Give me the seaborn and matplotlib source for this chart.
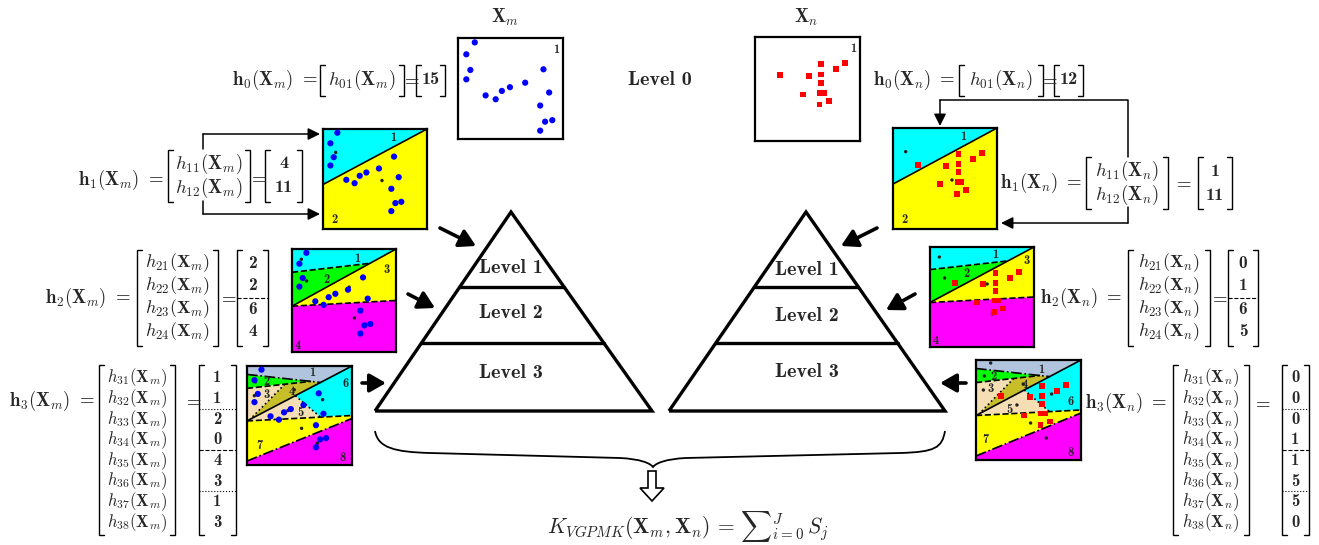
import matplotlib
matplotlib.use("Agg")
import matplotlib.pyplot as plt
import numpy as np
import pandas as pd
import seaborn as sns
from matplotlib.patches import Polygon, FancyArrow, PathPatch
from matplotlib.path import Path

# ------------------------------------------------------------------ data
# point sets (normalised feature space)
xm_x = [0.138, 0.071, 0.103, 0.071, 0.224, 0.304, 0.353, 0.417, 0.538, 0.683, 0.728, 0.657, 0.696, 0.753, 0.657]
xm_y = [0.963, 0.857, 0.718, 0.635, 0.492, 0.458, 0.532, 0.565, 0.605, 0.724, 0.518, 0.402, 0.259, 0.272, 0.179]
xn_x = [0.240, 0.513, 0.631, 0.631, 0.631, 0.769, 0.859, 0.455, 0.619, 0.657, 0.702, 0.615]
xn_y = [0.637, 0.627, 0.739, 0.640, 0.561, 0.693, 0.752, 0.446, 0.465, 0.465, 0.386, 0.350]
# view range of the level-0 box of X_m
xm_l0_xlim = (0.005, 0.838)
xm_l0_ylim = (0.105, 1.002)

# codebook (region centre) points per level
cb1_x = [0.122, 0.567]
cb1_y = [0.766, 0.485]
cb2_x = [0.09, 0.14, 0.55, 0.60]
cb2_y = [0.90, 0.69, 0.63, 0.33]
cb3_x = [0.14, 0.08, 0.07, 0.45, 0.39, 0.72, 0.52, 0.67]
cb3_y = [0.97, 0.84, 0.70, 0.76, 0.55, 0.66, 0.37, 0.22]

# histograms
h0_m = [15]
h1_m = [4, 11]
h2_m = [2, 2, 6, 4]
h3_m = [1, 1, 2, 0, 4, 3, 1, 3]
h0_n = [12]
h1_n = [1, 11]
h2_n = [0, 1, 6, 5]
h3_n = [0, 0, 0, 1, 1, 5, 5, 0]

level_names = ["Level 0", "Level 1", "Level 2", "Level 3"]

# region partitions of the feature space
l1_regions = [[(0, 0.445), (0, 1), (1, 1)],
              [(0, 0), (1, 0), (1, 1), (0, 0.445)]]
l1_colors = ["#00FFFF", "#FFFF00"]
l1_lines = [([0, 1], [0.445, 1], "-")]

l2_regions = [[(0, 1), (1, 1), (0.749, 0.861), (0, 0.774)],
              [(0, 0.774), (0.749, 0.861), (0, 0.445)],
              [(0, 0.445), (1, 1), (1, 0.50)],
              [(0, 0), (1, 0), (1, 0.50), (0, 0.445)]]
l2_colors = ["#00FFFF", "#00FF00", "#FFFF00", "#FF00FF"]
l2_lines = [([0, 1], [0.445, 1], "-"),
            ([0, 0.749], [0.774, 0.861], "--"),
            ([0, 1], [0.445, 0.50], "--")]

l3_regions = [[(0, 1), (1, 1), (0.70, 0.834), (0, 0.915)],
              [(0, 0.915), (0.61, 0.845), (0, 0.774)],
              [(0, 0.774), (0.36, 0.816), (0.03, 0.462), (0, 0.445)],
              [(0.36, 0.816), (0.61, 0.845), (0.70, 0.834), (0.03, 0.462)],
              [(0, 0.445), (0.46, 0.700), (0.70, 0.4835)],
              [(0.46, 0.700), (1, 1), (1, 0.50), (0.70, 0.4835)],
              [(0, 0.445), (1, 0.50), (1, 0.47), (0, 0.04)],
              [(0, 0), (1, 0), (1, 0.47), (0, 0.04)]]
l3_colors = ["#B0C4DE", "#00FF00", "#F5DEB3", "#C8BE2A",
             "#F5DEB3", "#00FFFF", "#FFFF00", "#FF00FF"]
l3_lines = [([0, 1], [0.445, 1], "-"),
            ([0, 0.61], [0.774, 0.845], "--"),
            ([0, 0.70], [0.915, 0.834], "-."),
            ([0.36, 0.03], [0.816, 0.462], ":"),
            ([0.46, 0.70], [0.700, 0.4835], ":"),
            ([0, 1], [0.445, 0.50], "--"),
            ([0, 1], [0.04, 0.47], "-.")]

# ------------------------------------------------------------------ setup
sns.set_theme(style="white")
plt.rcParams["font.family"] = ["DejaVu Serif"]
plt.rcParams["mathtext.fontset"] = "cm"
BOLD = "cmb10"   # Computer Modern bold (ships with matplotlib)

W, H = 1319, 545
fig = plt.figure(figsize=(W / 100, H / 100), dpi=100)
fig.patch.set_facecolor("white")
ax = fig.add_axes([0, 0, 1, 1])
ax.set_xlim(0, W)
ax.set_ylim(H, 0)
ax.axis("off")
ax.patch.set_alpha(0)


def box(x0, y0, x1, y1, xlim=(0, 1), ylim=(0, 1)):
    a = fig.add_axes([x0 / W, 1 - y1 / H, (x1 - x0) / W, (y1 - y0) / H])
    a.set_xlim(*xlim)
    a.set_ylim(*ylim)
    a.set_xticks([])
    a.set_yticks([])
    a.set_facecolor("white")
    for s in a.spines.values():
        s.set_visible(True)
        s.set_color("black")
        s.set_linewidth(1.6)
    return a


def partition(a, regions, colors, lines):
    for poly, c in zip(regions, colors):
        a.add_patch(Polygon(poly, closed=True, fc=c, ec="none", zorder=0))
    for xs, ys, ls in lines:
        a.plot(xs, ys, color="black", lw=1.2, ls=ls, zorder=1)


def labels(a, pos):
    for i, (px, py) in enumerate(pos):
        a.text(px, py, str(i + 1), fontsize=9, family=BOLD, ha="center", va="center", zorder=5)


def points(a, xs, ys, kind, cbx=None, cby=None):
    if cbx is not None:
        sns.scatterplot(x=cbx, y=cby, ax=a, color="#222222", s=6, edgecolor="none", legend=False, zorder=2)
    if kind == "m":
        sns.scatterplot(x=xs, y=ys, ax=a, color="#0000FF", marker="o", s=20, edgecolor="none", legend=False, zorder=3)
    else:
        sns.scatterplot(x=xs, y=ys, ax=a, color="#FF0000", marker="s", s=17, edgecolor="none", legend=False, zorder=3)
    a.set_xlabel("")
    a.set_ylabel("")


# ---------------- level 0 boxes
a = box(458, 38, 563, 139, xm_l0_xlim, xm_l0_ylim)
points(a, xm_x, xm_y, "m")
a.text(0.935, 0.885, "1", fontsize=9, family=BOLD, ha="center", va="center", transform=a.transAxes)
a = box(755, 37, 860, 141)
points(a, xn_x, xn_y, "n")
a.text(0.935, 0.885, "1", fontsize=9, family=BOLD, ha="center", va="center", transform=a.transAxes)

# ---------------- level 1 boxes
l1_lab = [(0.68, 0.91), (0.11, 0.09)]
a = box(323, 129, 427, 229)
partition(a, l1_regions, l1_colors, l1_lines)
points(a, xm_x, xm_y, "m", cb1_x, cb1_y)
labels(a, l1_lab)
a = box(893, 128, 997, 229)
partition(a, l1_regions, l1_colors, l1_lines)
points(a, xn_x, xn_y, "n", cb1_x, cb1_y)
labels(a, l1_lab)

# ---------------- level 2 boxes
l2_lab_m = [(0.63, 0.90), (0.33, 0.70), (0.91, 0.80), (0.06, 0.06)]
l2_lab_n = [(0.63, 0.92), (0.35, 0.73), (0.93, 0.86), (0.06, 0.06)]
a = box(292, 249, 396, 352)
partition(a, l2_regions, l2_colors, l2_lines)
points(a, xm_x, xm_y, "m", cb2_x, cb2_y)
labels(a, l2_lab_m)
a = box(930, 247, 1034, 347)
partition(a, l2_regions, l2_colors, l2_lines)
points(a, xn_x, xn_y, "n", cb2_x, cb2_y)
labels(a, l2_lab_n)

# ---------------- level 3 boxes
l3_lab_m = [(0.62, 0.93), (0.19, 0.84), (0.19, 0.71), (0.43, 0.74),
            (0.51, 0.53), (0.94, 0.82), (0.12, 0.19), (0.91, 0.075)]
l3_lab_n = [(0.625, 0.90), (0.165, 0.83), (0.14, 0.71), (0.46, 0.75),
            (0.32, 0.50), (0.905, 0.58), (0.086, 0.20), (0.905, 0.07)]
a = box(247, 366, 352, 465)
partition(a, l3_regions, l3_colors, l3_lines)
points(a, xm_x, xm_y, "m", cb3_x, cb3_y)
labels(a, l3_lab_m)
a = box(976, 360, 1081, 460)
partition(a, l3_regions, l3_colors, l3_lines)
points(a, xn_x, xn_y, "n", cb3_x, cb3_y)
labels(a, l3_lab_n)

# ---------------- titles
ax.text(505, 17, r"$\mathbf{X}_m$", fontsize=13.5, ha="center", va="center")
ax.text(806, 17, r"$\mathbf{X}_n$", fontsize=13.5, ha="center", va="center")
ax.text(660, 80, level_names[0], fontsize=14.5, family=BOLD, ha="center", va="center")

# ---------------- pyramids
for apx, bl, br in ((511, 375, 652), (806, 669, 945)):
    top, base = 212, 411
    ax.plot([bl, apx, br, bl], [base, top, base, base], color="black", lw=2.4,
            solid_joinstyle="miter", solid_capstyle="butt")
    for yy in (287, 343):
        t = (yy - top) / (base - top)
        ax.plot([apx + t * (bl - apx), apx + t * (br - apx)], [yy, yy], color="black", lw=2.4)
pyr_lab_y = {0: (268, 313, 373), 1: (270, 316, 372)}
for k, cx in enumerate((511, 807)):
    for i, yy in enumerate(pyr_lab_y[k]):
        ax.text(cx, yy, level_names[i + 1], fontsize=14.5, family=BOLD, ha="center", va="center")

# ---------------- thick arrows
thick = dict(arrowstyle="-|>,head_length=0.7,head_width=0.4", lw=2.6, color="black",
             mutation_scale=14, shrinkA=0, shrinkB=0)
for (x0, y0), (x1, y1) in [((440, 228), (476, 246)), ((408, 294), (435, 308)), ((362, 383), (386, 383)),
                           ((877, 228), (841, 246)), ((915, 294), (886, 310)), ((966, 383), (940, 383))]:
    ax.annotate("", xy=(x1, y1), xytext=(x0, y0), arrowprops=thick)

# ---------------- thin connectors
thin = dict(arrowstyle="-|>,head_length=0.6,head_width=0.3", lw=1.1, color="black",
            mutation_scale=12, shrinkA=0, shrinkB=0)
ax.plot([203, 203], [149, 134], color="black", lw=1.1)
ax.annotate("", xy=(320, 134), xytext=(203, 134), arrowprops=thin)
ax.plot([203, 203], [201, 214], color="black", lw=1.1)
ax.annotate("", xy=(320, 214), xytext=(203, 214), arrowprops=thin)
ax.plot([1128, 1128, 940], [157, 100, 100], color="black", lw=1.1)
ax.annotate("", xy=(940, 126), xytext=(940, 100), arrowprops=thin)
ax.plot([1128, 1128], [207, 223], color="black", lw=1.1)
ax.annotate("", xy=(1001, 223), xytext=(1128, 223), arrowprops=thin)


# ---------------- matrices
def bmat(xl, xr, rows, y_first, rowh, pad, fs, bold=False, seps=None, tick=5):
    n = len(rows)
    top = y_first - rowh / 2 - pad
    bot = y_first + (n - 1) * rowh + rowh / 2 + pad
    for xe, d in ((xl, 1), (xr, -1)):
        ax.plot([xe + d * tick, xe, xe, xe + d * tick], [top, top, bot, bot], color="black",
                lw=1.0, solid_joinstyle="miter")
    for i, r in enumerate(rows):
        kw = dict(family=BOLD) if bold else {}
        ax.text((xl + xr) / 2, y_first + i * rowh, r, ha="center", va="center", fontsize=fs, **kw)
    for after, ls in (seps or []):
        yy = y_first + (after - 0.5) * rowh
        ax.plot([xl, xr], [yy, yy], color="black", lw=0.8, ls=ls)


def hrows(level, n, s):
    return [r"$h_{%d%d}(\mathbf{X}_%s)$" % (level, i + 1, s) for i in range(n)]


def vrows(vals):
    return [str(v) for v in vals]


def lab(x, y, level, s, fs=13.5):
    ax.text(x, y, r"$\mathbf{h}_%d(\mathbf{X}_%s)\ =$" % (level, s), ha="right", va="center", fontsize=fs)


def eq(x, y, fs=13.5):
    ax.text(x, y, r"$=$", ha="center", va="center", fontsize=fs)


sep2 = [(2, "--")]
sep3 = [(2, ":"), (4, "--"), (6, ":")]

# left (X_m)
lab(318, 80, 0, "m")
bmat(320, 404, hrows(0, 1, "m"), 80, 25, 3, 13.5)
eq(410, 80)
bmat(416, 445, vrows(h0_m), 80, 25, 3, 13, bold=True)

lab(164, 180, 1, "m")
bmat(168, 250, hrows(1, 2, "m"), 164, 24, 2, 13.5)
eq(257, 178)
bmat(265, 302, vrows(h1_m), 164, 24, 2, 13, bold=True)

lab(131, 298, 2, "m")
bmat(137, 218, hrows(2, 4, "m"), 263, 23, 2, 13)
eq(227, 298)
bmat(237, 268, vrows(h2_m), 263, 23, 2, 12.5, bold=True, seps=sep2)

lab(95, 401, 3, "m")
bmat(99, 175, hrows(3, 8, "m"), 378, 20.6, 2.5, 12)
eq(192, 401)
bmat(199, 236, vrows(h3_m), 378, 20.6, 2.5, 12, bold=True, seps=sep3)

# right (X_n)
lab(955, 80, 0, "n")
bmat(959, 1043, hrows(0, 1, "n"), 80, 25, 3, 13.5)
eq(1048, 80)
bmat(1054, 1083, vrows(h0_n), 80, 25, 3, 13, bold=True)

lab(1082, 183, 1, "n")
bmat(1086, 1168, hrows(1, 2, "n"), 171, 24, 2, 13.5)
eq(1182, 183)
bmat(1198, 1232, vrows(h1_n), 171, 24, 2, 13, bold=True)

lab(1122, 298, 2, "n")
bmat(1128, 1210, hrows(2, 4, "n"), 263, 23, 2, 13)
eq(1218, 298)
bmat(1228, 1258, vrows(h2_n), 263, 23, 2, 12.5, bold=True, seps=sep2)

lab(1167, 403, 3, "n")
bmat(1173, 1249, hrows(3, 8, "n"), 378, 20.6, 2.5, 12)
eq(1261, 403)
bmat(1282, 1309, vrows(h3_n), 378, 20.6, 2.5, 12, bold=True, seps=sep3)

# ---------------- brace, arrow and kernel formula
verts = [(375, 431), (378, 448), (395, 452), (430, 453),
         (620, 458),
         (640, 459), (650, 463), (653, 467),
         (656, 463), (666, 459), (686, 458),
         (900, 453),
         (935, 452), (942, 448), (945, 431)]
codes = [Path.MOVETO, Path.CURVE4, Path.CURVE4, Path.CURVE4,
         Path.LINETO,
         Path.CURVE4, Path.CURVE4, Path.CURVE4,
         Path.CURVE4, Path.CURVE4, Path.CURVE4,
         Path.LINETO,
         Path.CURVE4, Path.CURVE4, Path.CURVE4]
ax.add_patch(PathPatch(Path(verts, codes), fc="none", ec="black", lw=1.3))
ax.add_patch(FancyArrow(652, 471, 0, 30, width=8, head_width=24, head_length=13,
                        length_includes_head=True, fc="white", ec="black", lw=1.2))
ax.text(688, 526, r"$K_{VGPMK}(\mathbf{X}_m,\mathbf{X}_n)\,=\,{\sum}_{i=0}^{J}\,S_j$",
        ha="center", va="center", fontsize=15.5)

fig.savefig("out.png", dpi=100, facecolor="white")
